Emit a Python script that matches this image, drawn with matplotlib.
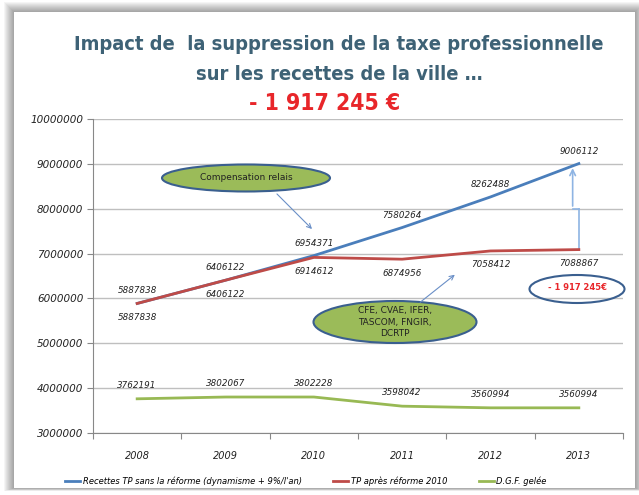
import matplotlib
matplotlib.use("Agg")
import matplotlib.pyplot as plt
from matplotlib.patches import Ellipse, Rectangle, FancyArrowPatch
from matplotlib.lines import Line2D
import matplotlib.ticker as mticker
from matplotlib import font_manager

years = ["2008", "2009", "2010", "2011", "2012", "2013"]
sans_reforme = [5887838, 6406122, 6954371, 7580264, 8262488, 9006112]
apres_reforme = [5887838, 6406122, 6914612, 6874956, 7058412, 7088867]
dgf = [3762191, 3802067, 3802228, 3598042, 3560994, 3560994]
series_names = ["Recettes TP sans la réforme (dynamisme + 9%/l'an)",
                "TP après réforme 2010", "D.G.F. gelée"]
y_ticks = [3000000, 4000000, 5000000, 6000000, 7000000, 8000000, 9000000, 10000000]

BLUE = "#4A7EBB"
RED = "#BE4B48"
GREEN = "#98B954"
TITLE_C = "#3E6276"

# choose a condensed bold font if available
cond = [f for f in font_manager.fontManager.ttflist
        if f.weight in ("bold", 700) and ("Condensed" in f.fname or "Narrow" in f.fname)
        and "Oblique" not in f.fname and "Italic" not in f.fname]
if cond:
    TFONT = font_manager.FontProperties(fname=cond[0].fname)
    TSIZE = 14.4
    RSIZE = 16.5
else:
    TFONT = font_manager.FontProperties(family="DejaVu Sans", weight="bold")
    TSIZE = 13
    RSIZE = 14.5

W, H = 639, 495
fig = plt.figure(figsize=(W / 100, H / 100), dpi=100)
fig.patch.set_facecolor("white")

def fx(px):
    return px / W

def fy(py):
    return 1 - py / H

# panel shadow
for i in range(10):
    d = 10 - i
    fig.patches.append(Rectangle((fx(14 - d), fy(488 + d * 0.3)), fx(621 + 2 * d), (476 + d * 1.3) / H,
                                 transform=fig.transFigure, facecolor="black", alpha=0.04,
                                 edgecolor="none", zorder=-3))
fig.patches.append(Rectangle((fx(14), fy(488)), fx(621), 476 / H, transform=fig.transFigure,
                             facecolor="white", edgecolor="none", zorder=-2))

ax = fig.add_axes([fx(93), fy(433), fx(623 - 93), (433 - 119) / H])
ax.set_facecolor("none")
x = list(range(len(years)))

ax.plot(x, sans_reforme, color=BLUE, lw=2, zorder=3, label=series_names[0])
ax.plot(x, apres_reforme, color=RED, lw=2, zorder=4, label=series_names[1])
ax.plot(x, dgf, color=GREEN, lw=2, zorder=3, label=series_names[2])

lab_kw = dict(fontsize=6.3, style="italic", color="#222222", ha="center", va="center",
              textcoords="offset points")
for xi, v in zip(x, sans_reforme):
    ax.annotate(str(v), (xi, v), xytext=(0, 9), **lab_kw)
for xi, v in zip(x, apres_reforme):
    ax.annotate(str(v), (xi, v), xytext=(0, -10), **lab_kw)
for xi, v in zip(x, dgf):
    ax.annotate(str(v), (xi, v), xytext=(0, 9.5), **lab_kw)

ax.set_xlim(-0.5, len(years) - 0.5)
ax.set_ylim(y_ticks[0], y_ticks[-1])
ax.set_yticks(y_ticks)
ax.yaxis.set_major_formatter(mticker.FuncFormatter(lambda v, p: f"{int(v)}"))
ax.set_xticks([i - 0.5 for i in range(len(years) + 1)])
ax.set_xticklabels([])
ax.set_xticks(x, minor=True)
ax.set_xticklabels(years, minor=True)
ax.tick_params(axis="x", which="minor", length=0, pad=13, labelsize=7, labelcolor="#222222")
ax.tick_params(axis="x", which="major", length=4, color="#888888", direction="out")
ax.tick_params(axis="y", length=4, color="#888888", labelsize=7.5, labelcolor="#222222", pad=3)
for t in ax.get_yticklabels() + ax.get_xticklabels(minor=True):
    t.set_fontstyle("italic")
ax.grid(axis="y", color="#BFBFBF", lw=1)
ax.set_axisbelow(True)
for s in ["top", "right"]:
    ax.spines[s].set_visible(False)
for s in ["left", "bottom"]:
    ax.spines[s].set_color("#888888")

# vertical arrow between red and blue 2013
xe = x[-1]
mid = (apres_reforme[-1] + sans_reforme[-1]) / 2 - 50000
ax.plot([xe, xe], [apres_reforme[-1], mid], color="#8EB4E3", lw=1.2, zorder=2)
ax.plot([xe, xe - 0.07], [mid, mid], color="#8EB4E3", lw=1.2, zorder=2)
ax.annotate("", xy=(xe - 0.07, sans_reforme[-1] - 40000), xytext=(xe - 0.07, mid),
            arrowprops=dict(arrowstyle="->", color="#8EB4E3", lw=1.2), zorder=2)

# Titles
fig.text(fx(339), fy(45), "Impact de  la suppression de la taxe professionnelle",
         ha="center", va="center", fontproperties=TFONT, fontsize=TSIZE, color=TITLE_C)
fig.text(fx(339), fy(75), "sur les recettes de la ville …",
         ha="center", va="center", fontproperties=TFONT, fontsize=TSIZE, color=TITLE_C)
fig.text(fx(325), fy(104), "- 1 917 245 €", ha="center", va="center",
         fontproperties=TFONT, fontsize=RSIZE, color="#E8262A")

# callout ellipses
def ell(cx, cy, w, h, fc):
    e = Ellipse((fx(cx), fy(cy)), w / W, h / H, transform=fig.transFigure, facecolor=fc,
                edgecolor="#3A5F8F", lw=1.5, zorder=5)
    fig.patches.append(e)

ell(246, 178, 168, 27, "#9BBB59")
fig.text(fx(246), fy(178), "Compensation relais", ha="center", va="center", fontsize=6.5,
         color="#222222", zorder=6)
ell(395, 322, 163, 42, "#9BBB59")
fig.text(fx(395), fy(322), "CFE, CVAE, IFER,\nTASCOM, FNGIR,\nDCRTP", ha="center", va="center",
         fontsize=6.5, color="#222222", linespacing=1.35, zorder=6)
ell(577, 289, 95, 28, "none")
fig.text(fx(577), fy(288), "- 1 917 245€", ha="center", va="center", fontsize=6,
         fontweight="bold", color="#E8262A", zorder=6)

for (x0, y0, x1, y1) in [(275, 192, 314, 231), (418, 304, 457, 273)]:
    a = FancyArrowPatch((fx(x0), fy(y0)), (fx(x1), fy(y1)), transform=fig.transFigure,
                        arrowstyle="->", mutation_scale=8, color="#6A8FC7", lw=0.8, zorder=6)
    fig.patches.append(a)

handles = [Line2D([], [], color=c, lw=2) for c in (BLUE, RED, GREEN)]
leg = fig.legend(handles, series_names, loc="center", bbox_to_anchor=(fx(306), fy(481)),
                 ncol=3, frameon=False, fontsize=6, handlelength=1.8, handletextpad=0.3,
                 columnspacing=3.8)
for t in leg.get_texts():
    t.set_fontstyle("italic")

fig.savefig("out.png", dpi=100)
